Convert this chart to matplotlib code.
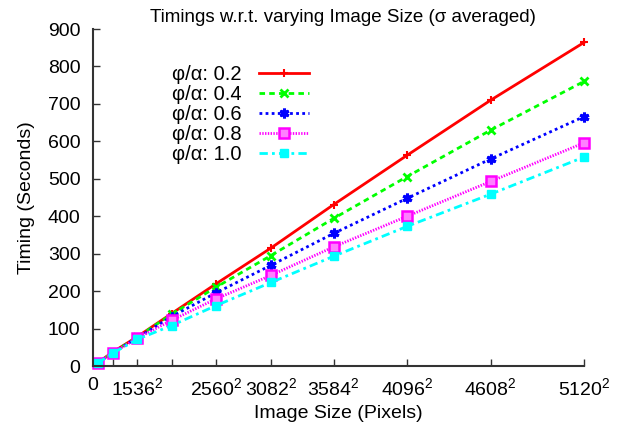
import numpy as np
import matplotlib
matplotlib.use("Agg")
import matplotlib.pyplot as plt

plt.rcParams["font.family"] = ["Liberation Sans", "DejaVu Sans"]
plt.rcParams["mathtext.fontset"] = "custom"
plt.rcParams["mathtext.rm"] = "Liberation Sans"
plt.rcParams["mathtext.default"] = "regular"
plt.rcParams["font.size"] = 14

# image side lengths (pixels); x axis is the pixel count
sizes = [512, 1024, 1536, 2048, 2560, 3082, 3584, 4096, 4608, 5120]
t_02 = [9, 37, 78, 140, 219, 315, 431, 563, 710, 864]
t_04 = [9, 36, 77, 138, 210, 295, 394, 506, 630, 760]
t_06 = [9, 35, 75, 132, 195, 269, 354, 448, 553, 666]
t_08 = [9, 35, 74, 122, 179, 242, 318, 400, 493, 596]
t_10 = [8, 34, 71, 108, 161, 223, 293, 373, 459, 558]
labels = ["φ/α: 0.2", "φ/α: 0.4", "φ/α: 0.6", "φ/α: 0.8", "φ/α: 1.0"]

tick_sizes = [0, 1024, 1536, 2048, 2560, 3082, 3584, 4096, 4608, 5120]
tick_text = ["0", "", r"$1536^{2}$", "", r"$2560^{2}$", r"$3082^{2}$",
             r"$3584^{2}$", r"$4096^{2}$", r"$4608^{2}$", r"$5120^{2}$"]

x = np.array(sizes, dtype=float) ** 2

fig = plt.figure(figsize=(6.24, 4.23), dpi=100)
ax = fig.add_axes([93 / 624, 1 - 366 / 423, (584 - 93) / 624, (366 - 29) / 423])

styles = [
    dict(color="#ff0000", ls="-", marker="+", ms=6, mew=1.5),
    dict(color="#00ff00", ls=(0, (2, 1.5)), marker="x", ms=6, mew=2),
    dict(color="#0000ff", ls=(0, (1, 1.2)), marker=(6, 2, 0), ms=7, mew=2.2),
    dict(color="#ff00ff", ls=(0, (0.5, 0.5)), marker="s", ms=7, mew=1.8,
         mfc="#ff80ff"),
    dict(color="#00ffff", ls=(0, (3, 1.5, 1, 1.5)), marker="s", ms=6, mew=1),
]
series = [t_02, t_04, t_06, t_08, t_10]
for y, lab, st in zip(series, labels, styles):
    ax.plot(x, y, lw=2, label=lab, clip_on=False, **st)

ax.set_xlim(0, 5120 ** 2)
ax.set_ylim(0, 900)
ax.set_xticks(np.array(tick_sizes, dtype=float) ** 2)
ax.set_xticklabels(tick_text)
ax.set_yticks(range(0, 901, 100))

for s in ["top", "right"]:
    ax.spines[s].set_visible(False)
for s in ["left", "bottom"]:
    ax.spines[s].set_color("#333333")
    ax.spines[s].set_linewidth(1.5)
ax.tick_params(direction="in", length=5, width=1, color="#333333", labelsize=14)
ax.tick_params(axis="x", pad=8)
ax.tick_params(axis="y", pad=9)

ax.set_xlabel("Image Size (Pixels)", fontsize=14, labelpad=4)
ax.set_ylabel("Timing (Seconds)", fontsize=14, labelpad=9)
fig.text(343 / 624, 1 - 17 / 423, "Timings w.r.t. varying Image Size (σ averaged)",
         ha="center", va="center", fontsize=13.5)

ax.legend(loc="upper left", bbox_to_anchor=(172 / 624, 1 - 65 / 423),
          bbox_transform=fig.transFigure, frameon=False, markerfirst=False,
          handlelength=2.5, handletextpad=0.85, labelspacing=0.05,
          borderpad=0, borderaxespad=0, fontsize=14.5)

fig.savefig("out.png", dpi=100)
